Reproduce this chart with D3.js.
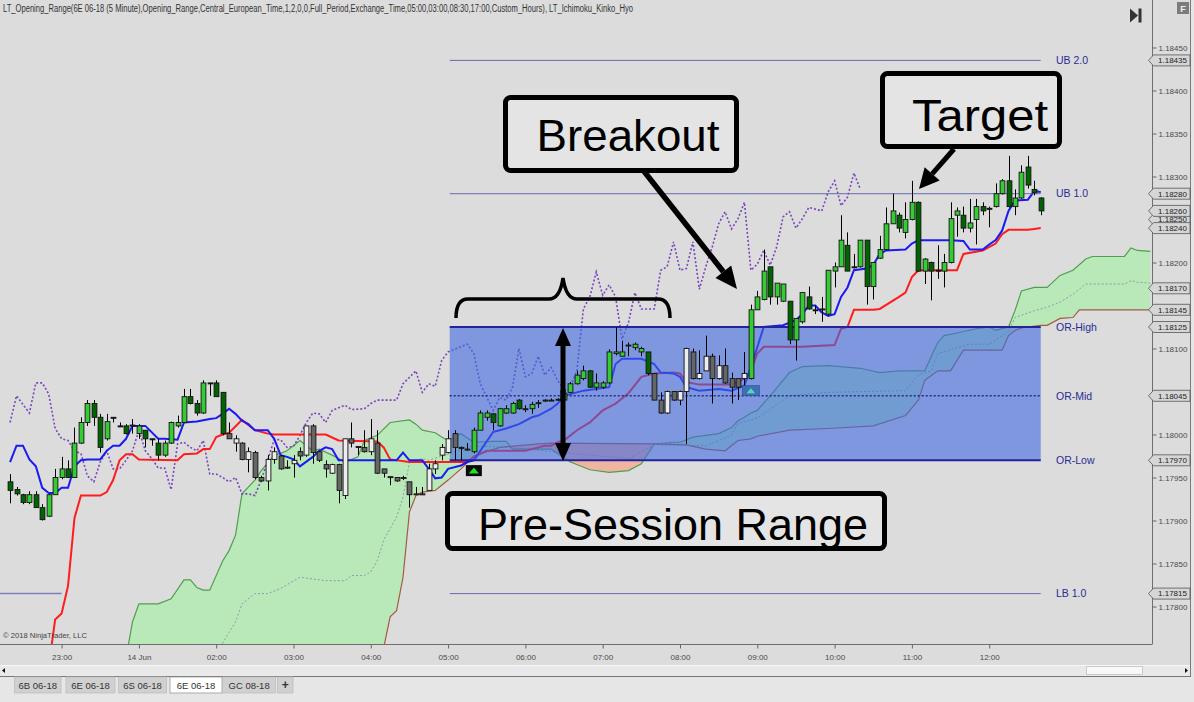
<!DOCTYPE html>
<html><head><meta charset="utf-8">
<script src="https://cdn.jsdelivr.net/npm/d3@7/dist/d3.min.js"></script>
<style>
html,body{margin:0;padding:0;background:#e6e6e6;}
svg{display:block;}
text{font-family:"Liberation Sans",Arial,sans-serif;}
</style></head><body>
<svg id="c" width="1194" height="702"></svg>
<script>
// ---------------- DATA ----------------
const chartTitle = "LT_Opening_Range(6E 06-18 (5 Minute),Opening_Range,Central_European_Time,1,2,0,0,Full_Period,Exchange_Time,05:00,03:00,08:30,17:00,Custom_Hours), LT_Ichimoku_Kinko_Hyo";
const timeLabels = ["23:00","14 Jun","02:00","03:00","04:00","05:00","06:00","07:00","08:00","09:00","10:00","11:00","12:00"];
const timeTickBars = [0,12,24,36,48,60,72,84,96,108,120,132,144];
const priceTicks = [1.178,1.1785,1.179,1.1795,1.18,1.1805,1.181,1.1815,1.182,1.1825,1.183,1.1835,1.184,1.1845];
const firstBar = -8;
// 5-minute candles [open, high, low, close]
const ohlc = [
[1.17945,1.17954,1.17920,1.17935],[1.17936,1.17939,1.17929,1.17931],[1.17930,1.17931,1.17919,1.17921],[1.17921,1.17934,1.17919,1.17930],
[1.17930,1.17934,1.17915,1.17915],[1.17915,1.17919,1.17900,1.17901],[1.17905,1.17931,1.17904,1.17930],[1.17930,1.17960,1.17930,1.17950],
[1.17950,1.17974,1.17948,1.17960],[1.17960,1.17970,1.17950,1.17950],[1.17950,1.18008,1.17950,1.17990],[1.17990,1.18020,1.17989,1.18014],
[1.18014,1.18040,1.18010,1.18036],[1.18036,1.18040,1.18010,1.18020],[1.18020,1.18024,1.17979,1.17985],[1.17995,1.18024,1.17993,1.18015],
[1.18020,1.18020,1.18014,1.18019],[1.18010,1.18014,1.18009,1.18009],[1.18010,1.18012,1.18000,1.18001],[1.18010,1.18018,1.18001,1.18011],
[1.18001,1.18012,1.17995,1.18010],[1.18005,1.18005,1.17985,1.17995],[1.17995,1.17995,1.17987,1.17994],[1.17990,1.17995,1.17970,1.17976],
[1.17976,1.17993,1.17974,1.17990],[1.17990,1.18015,1.17989,1.18014],[1.18010,1.18022,1.18008,1.18014],[1.18014,1.18053,1.18014,1.18044],
[1.18044,1.18053,1.18035,1.18036],[1.18036,1.18040,1.18022,1.18025],[1.18025,1.18063,1.18024,1.18060],[1.18060,1.18060,1.18045,1.18059],
[1.18060,1.18063,1.18044,1.18044],[1.18049,1.18049,1.17999,1.18001],[1.18001,1.18014,1.17995,1.17995],[1.17990,1.17999,1.17980,1.17995],
[1.17990,1.17991,1.17970,1.17971],[1.17971,1.17985,1.17956,1.17980],[1.17979,1.17981,1.17948,1.17950],[1.17950,1.17952,1.17945,1.17946],
[1.17946,1.17976,1.17935,1.17971],[1.17971,1.17985,1.17966,1.17980],[1.17975,1.17976,1.17959,1.17960],[1.17961,1.17970,1.17960,1.17962],
[1.17966,1.17976,1.17950,1.17970],[1.17980,1.17985,1.17970,1.17975],[1.17976,1.18010,1.17974,1.18010],[1.18010,1.18012,1.17966,1.17979],
[1.17980,1.17981,1.17968,1.17970],[1.17965,1.17970,1.17950,1.17960],[1.17955,1.17966,1.17954,1.17965],[1.17965,1.17966,1.17920,1.17935],
[1.17929,1.17995,1.17925,1.17995],[1.17995,1.18014,1.17985,1.17990],[1.17986,1.17986,1.17976,1.17985],[1.17985,1.18005,1.17979,1.17980],
[1.17980,1.18018,1.17976,1.17995],[1.17990,1.18005,1.17954,1.17955],[1.17960,1.17960,1.17950,1.17955],[1.17951,1.17951,1.17941,1.17950],
[1.17950,1.17950,1.17945,1.17946],[1.17949,1.17952,1.17947,1.17950],[1.17945,1.17945,1.17915,1.17930],[1.17930,1.17939,1.17930,1.17931],
[1.17930,1.17939,1.17930,1.17931],[1.17935,1.17966,1.17935,1.17960],[1.17960,1.17970,1.17954,1.17966],[1.17976,1.17989,1.17970,1.17985],
[1.17979,1.18005,1.17978,1.17995],[1.18001,1.18005,1.17970,1.17985],[1.17985,1.17986,1.17970,1.17984],[1.17982,1.17990,1.17981,1.17983],
[1.17980,1.18008,1.17978,1.18005],[1.18005,1.18028,1.18005,1.18025],[1.18020,1.18028,1.18016,1.18025],[1.18024,1.18025,1.18005,1.18014],
[1.18010,1.18031,1.18009,1.18030],[1.18025,1.18034,1.18024,1.18030],[1.18025,1.18038,1.18024,1.18036],[1.18040,1.18041,1.18029,1.18030],
[1.18029,1.18034,1.18026,1.18030],[1.18030,1.18038,1.18024,1.18035],[1.18036,1.18040,1.18031,1.18037],[1.18039,1.18041,1.18038,1.18040],
[1.18040,1.18042,1.18039,1.18040],[1.18040,1.18042,1.18039,1.18041],[1.18040,1.18049,1.18039,1.18048],[1.18049,1.18061,1.18048,1.18059],
[1.18059,1.18074,1.18058,1.18069],[1.18065,1.18080,1.18063,1.18074],[1.18074,1.18075,1.18054,1.18055],[1.18055,1.18071,1.18051,1.18060],
[1.18055,1.18062,1.18053,1.18060],[1.18060,1.18099,1.18059,1.18096],[1.18094,1.18125,1.18092,1.18096],[1.18091,1.18109,1.18091,1.18096],
[1.18103,1.18107,1.18091,1.18104],[1.18101,1.18107,1.18098,1.18105],[1.18096,1.18102,1.18091,1.18100],[1.18096,1.18096,1.18069,1.18071],
[1.18071,1.18071,1.18040,1.18040],[1.18040,1.18049,1.18024,1.18025],[1.18025,1.18051,1.18024,1.18050],[1.18050,1.18050,1.18039,1.18040],
[1.18040,1.18051,1.18034,1.18050],[1.18050,1.18101,1.17989,1.18100],[1.18096,1.18100,1.18064,1.18065],[1.18065,1.18098,1.18064,1.18071],
[1.18074,1.18115,1.18074,1.18091],[1.18091,1.18094,1.18036,1.18065],[1.18065,1.18092,1.18064,1.18080],[1.18080,1.18100,1.18059,1.18060],
[1.18065,1.18072,1.18036,1.18055],[1.18065,1.18065,1.18040,1.18055],[1.18065,1.18096,1.18055,1.18071],[1.18065,1.18151,1.18064,1.18145],
[1.18145,1.18167,1.18145,1.18160],[1.18157,1.18215,1.18156,1.18190],[1.18195,1.18195,1.18151,1.18160],[1.18160,1.18176,1.18151,1.18176],
[1.18155,1.18175,1.18154,1.18175],[1.18155,1.18155,1.18105,1.18110],[1.18110,1.18135,1.18086,1.18135],[1.18131,1.18165,1.18129,1.18165],
[1.18160,1.18172,1.18145,1.18146],[1.18145,1.18150,1.18140,1.18144],[1.18145,1.18160,1.18131,1.18146],[1.18140,1.18191,1.18138,1.18191],
[1.18190,1.18200,1.18171,1.18195],[1.18195,1.18255,1.18195,1.18226],[1.18220,1.18235,1.18190,1.18190],[1.18195,1.18210,1.18193,1.18194],
[1.18195,1.18226,1.18194,1.18226],[1.18226,1.18226,1.18151,1.18172],[1.18172,1.18200,1.18157,1.18200],[1.18205,1.18231,1.18204,1.18215],
[1.18215,1.18264,1.18214,1.18245],[1.18245,1.18280,1.18245,1.18260],[1.18255,1.18258,1.18235,1.18240],[1.18235,1.18270,1.18228,1.18250],
[1.18250,1.18295,1.18249,1.18270],[1.18270,1.18271,1.18189,1.18190],[1.18190,1.18205,1.18175,1.18204],[1.18200,1.18201,1.18156,1.18190],
[1.18191,1.18220,1.18181,1.18190],[1.18190,1.18210,1.18171,1.18200],[1.18200,1.18270,1.18199,1.18251],[1.18255,1.18264,1.18230,1.18260],
[1.18255,1.18265,1.18235,1.18240],[1.18240,1.18274,1.18235,1.18246],[1.18250,1.18274,1.18221,1.18265],[1.18265,1.18270,1.18255,1.18260],
[1.18263,1.18265,1.18241,1.18262],[1.18265,1.18292,1.18264,1.18280],[1.18280,1.18297,1.18279,1.18295],[1.18295,1.18324,1.18264,1.18265],
[1.18265,1.18285,1.18255,1.18275],[1.18275,1.18313,1.18274,1.18305],[1.18311,1.18324,1.18286,1.18290],[1.18285,1.18295,1.18278,1.18281],
[1.18275,1.18276,1.18255,1.18260]
];
// bar spans where the trend colouring is neutral (grey candles)
const neutralSpans = [[26,63],[92,106]];
// Ichimoku lines: [bar, price]
const tenkan = [[-8,1.17968],[-7,1.17987],[-6,1.17987],[-5,1.17971],[-4,1.17963],[-3,1.17938],[-2,1.17932],[-1,1.17932],[0,1.17938],[1,1.17938],[2,1.17963],[3,1.17970],[4,1.17971],[6,1.17971],[7,1.17981],[8,1.17987],[9,1.17987],[10,1.17995],[11,1.18010],[13,1.18010],[15,1.17995],[16,1.17995],[18,1.17994],[19,1.18014],[21,1.18015],[23,1.18018],[24,1.18019],[25,1.18024],[26,1.18030],[27,1.18024],[28,1.18016],[29,1.18012],[30,1.18005],[32,1.18005],[33,1.17995],[34,1.17976],[35,1.17974],[36,1.17971],[37,1.17963],[39,1.17974],[40,1.17981],[41,1.17985],[42,1.17983],[43,1.17970],[52,1.17970],[53,1.17979],[54,1.17970],[56,1.17970],[57,1.17960],[58,1.17949],[59,1.17950],[60,1.17960],[62,1.17964],[63,1.17968],[64,1.17970],[67,1.18003],[69,1.18007],[71,1.18012],[73,1.18020],[74,1.18022],[76,1.18030],[77,1.18036],[78,1.18045],[80,1.18049],[81,1.18051],[85,1.18055],[86,1.18082],[87,1.18088],[90,1.18088],[92,1.18082],[93,1.18072],[95,1.18071],[96,1.18067],[97,1.18055],[99,1.18051],[102,1.18053],[104,1.18051],[106,1.18057],[107,1.18078],[109,1.18125],[112,1.18127],[114,1.18133],[115,1.18140],[116,1.18150],[117,1.18150],[118,1.18142],[119,1.18138],[120,1.18140],[121,1.18160],[122,1.18171],[123,1.18191],[125,1.18193],[126,1.18197],[127,1.18210],[128,1.18214],[131,1.18215],[132,1.18222],[133,1.18226],[138,1.18226],[140,1.18225],[141,1.18215],[143,1.18215],[144,1.18221],[145,1.18226],[146,1.18237],[147,1.18260],[148,1.18272],[150,1.18273],[151,1.18283],[152,1.18282]];
const kijun = [[-2,1.17730],[-1,1.17785],[0,1.17792],[1,1.17824],[2,1.17903],[3,1.17929],[6,1.17929],[7,1.17933],[8,1.17947],[9,1.17970],[10,1.17977],[11,1.17977],[12,1.17971],[18,1.17970],[19,1.17977],[21,1.17978],[22,1.17983],[23,1.17983],[24,1.17997],[25,1.18000],[26,1.18002],[28,1.18017],[30,1.18005],[32,1.18001],[33,1.18000],[41,1.18000],[43,1.17993],[49,1.17992],[50,1.17985],[51,1.17971],[54,1.17968],[63,1.17968],[64,1.17974],[66,1.17981],[72,1.17981],[73,1.17983],[75,1.17987],[76,1.17987],[77,1.17991],[78,1.17993],[79,1.17999],[80,1.18005],[82,1.18014],[84,1.18028],[86,1.18036],[88,1.18048],[90,1.18067],[92,1.18071],[95,1.18072],[96,1.18071],[97,1.18061],[99,1.18058],[104,1.18058],[106,1.18065],[107,1.18074],[108,1.18094],[109,1.18102],[115,1.18102],[120,1.18104],[121,1.18123],[122,1.18125],[123,1.18145],[126,1.18145],[127,1.18146],[130,1.18160],[131,1.18165],[132,1.18183],[133,1.18191],[139,1.18191],[140,1.18210],[143,1.18214],[145,1.18222],[146,1.18233],[147,1.18238],[150,1.18238],[151,1.18239],[152,1.18240]];
const chikou = [[-8,1.18014],[-7,1.18045],[-5,1.18025],[-4,1.18060],[-3,1.18060],[-2,1.18047],[-1,1.18007],[0,1.17995],[1,1.17993],[2,1.17981],[3,1.17978],[4,1.17952],[5,1.17945],[6,1.17968],[7,1.17981],[8,1.17960],[9,1.17960],[10,1.17970],[11,1.17981],[12,1.18005],[13,1.17981],[14,1.17972],[15,1.17961],[16,1.17961],[17,1.17936],[18,1.17989],[19,1.17991],[20,1.17985],[21,1.17981],[22,1.17993],[23,1.17954],[24,1.17954],[25,1.17950],[26,1.17945],[27,1.17950],[28,1.17931],[29,1.17931],[30,1.17929],[31,1.17947],[33,1.17994],[34,1.17994],[35,1.17985],[36,1.17986],[37,1.17999],[38,1.18014],[39,1.18025],[40,1.18024],[41,1.18014],[42,1.18028],[44,1.18034],[45,1.18029],[47,1.18030],[48,1.18036],[49,1.18040],[52,1.18040],[53,1.18059],[55,1.18074],[56,1.18049],[57,1.18059],[58,1.18056],[59,1.18086],[60,1.18096],[62,1.18102],[63,1.18105],[64,1.18094],[65,1.18059],[67,1.18028],[68,1.18043],[69,1.18040],[70,1.18055],[71,1.18100],[72,1.18067],[73,1.18071],[74,1.18091],[75,1.18069],[76,1.18078],[77,1.18063],[78,1.18051],[79,1.18055],[80,1.18075],[81,1.18146],[82,1.18160],[83,1.18189],[84,1.18162],[85,1.18174],[86,1.18160],[87,1.18111],[88,1.18130],[89,1.18165],[90,1.18146],[92,1.18146],[93,1.18191],[94,1.18195],[95,1.18224],[96,1.18191],[97,1.18193],[98,1.18224],[99,1.18169],[100,1.18195],[101,1.18218],[102,1.18245],[103,1.18259],[104,1.18239],[105,1.18251],[106,1.18270],[107,1.18191],[108,1.18198],[109,1.18214],[110,1.18197],[111,1.18218],[112,1.18253],[113,1.18259],[114,1.18240],[115,1.18251],[116,1.18264],[118,1.18260],[119,1.18282],[120,1.18295],[121,1.18266],[122,1.18276],[123,1.18304],[124,1.18285]];
const senkouA = [[10,1.17740],[11,1.17782],[12,1.17803],[15,1.17803],[17,1.17809],[19,1.17831],[20,1.17831],[21,1.17822],[22,1.17819],[23,1.17819],[25,1.17853],[26,1.17865],[27,1.17883],[28,1.17931],[30,1.17947],[31,1.17958],[33,1.17976],[34,1.17978],[35,1.17981],[37,1.17993],[39,1.17981],[40,1.17983],[42,1.17976],[44,1.17968],[46,1.17974],[47,1.17993],[49,1.17999],[51,1.18014],[54,1.18017],[55,1.18012],[56,1.18005],[58,1.18002],[59,1.17997],[60,1.17993],[62,1.18001],[64,1.17991],[67,1.17992],[69,1.17992],[70,1.17983],[76,1.17983],[77,1.17978],[79,1.17968],[82,1.17959],[85,1.17956],[88,1.17958],[90,1.17966],[92,1.17989],[95,1.17991],[96,1.17991],[98,1.17997],[100,1.17999],[102,1.18001],[104,1.18008],[105,1.18016],[106,1.18020],[107,1.18025],[108,1.18028],[110,1.18045],[113,1.18072],[115,1.18079],[119,1.18080],[124,1.18077],[127,1.18072],[130,1.18074],[134,1.18074],[136,1.18107],[137,1.18115],[139,1.18118],[142,1.18123],[144,1.18125],[145,1.18121],[147,1.18125],[148,1.18144],[149,1.18167],[151,1.18171],[153,1.18171],[155,1.18185],[157,1.18191],[159,1.18204],[160,1.18207],[165,1.18207],[166,1.18217],[167,1.18214],[169,1.18213]];
const senkouB = [[50,1.17752],[51,1.17788],[52,1.17795],[53,1.17834],[54,1.17910],[55,1.17929],[56,1.17933],[58,1.17935],[59,1.17941],[60,1.17947],[62,1.17960],[64,1.17975],[68,1.17985],[74,1.17989],[76,1.17990],[92,1.17989],[97,1.17988],[100,1.17983],[103,1.17981],[105,1.17993],[107,1.17995],[108,1.17998],[113,1.18005],[119,1.18007],[126,1.18010],[131,1.18022],[133,1.18040],[134,1.18063],[136,1.18074],[138,1.18074],[140,1.18098],[146,1.18098],[147,1.18115],[148,1.18121],[149,1.18124],[152,1.18127],[153,1.18127],[155,1.18135],[157,1.18136],[158,1.18145],[169,1.18145]];
const cloudMid = [[24,1.17745],[26,1.17770],[27,1.17782],[28,1.17803],[30,1.17815],[32,1.17815],[34,1.17821],[37,1.17834],[41,1.17830],[44,1.17830],[45,1.17836],[47,1.17836],[48,1.17840],[49,1.17853],[50,1.17877],[52,1.17904],[53,1.17927],[54,1.17968],[56,1.17972],[57,1.17970],[64,1.17987],[71,1.17984],[79,1.17978],[88,1.17972],[92,1.17988],[100,1.17987],[104,1.17999],[105,1.18013],[108,1.18019],[113,1.18045],[119,1.18049],[131,1.18051],[133,1.18069],[135,1.18074],[136,1.18094],[139,1.18101],[141,1.18105],[144,1.18105],[147,1.18120],[148,1.18136],[151,1.18144],[153,1.18148],[155,1.18154],[157,1.18163],[159,1.18175],[165,1.18175],[166,1.18179],[167,1.18177],[169,1.18176]];
// Opening range levels
const levelNames = ["UB 2.0","UB 1.0","OR-High","OR-Mid","OR-Low","LB 1.0"];
const levelValues = [1.18435,1.18280,1.18125,1.18045,1.17970,1.17815];
const rangeStartBar = 60.25, rangeEndBar = 152;
const prevLB = {value:1.17815, startBar:-12, endBar:0};
// right-axis price markers
const axisMarkers = [1.18435,1.18280,1.18250,1.18260,1.18240,1.18170,1.18145,1.18125,1.18045,1.17970,1.17815];
// signal markers [bar, price]
const longSignal = [64,1.17958];
const reentrySignal = [107,1.18051];
const tabNames = ["6B 06-18","6E 06-18","6S 06-18","6E 06-18","GC 08-18","+"];

// ---------------- DRAW ----------------
const svg = d3.select("#c");
const defs = svg.append("defs");
const PR = 1152, PB = 644;
const x = d3.scaleLinear().domain([0,144]).range([61.6,989.2]);
const y = d3.scaleLinear().domain([1.178,1.1845]).range([606.5,47.5]);

defs.append("clipPath").attr("id","plotClip").append("rect").attr("x",0).attr("y",0).attr("width",PR).attr("height",PB);

svg.append("rect").attr("width",1194).attr("height",702).attr("fill","#e6e6e6");
svg.append("rect").attr("x",0).attr("y",0).attr("width",1190).attr("height",676).attr("fill","#dcdcdc");

const plot = svg.append("g").attr("clip-path","url(#plotClip)");

// cloud
const topY=-60, botY=720;
const belowArea = d3.area().x(d=>x(d[0])).y0(d=>y(d[1])).y1(botY);
const aboveArea = d3.area().x(d=>x(d[0])).y0(topY).y1(d=>y(d[1]));
defs.append("clipPath").attr("id","belowA").append("path").attr("d",belowArea(senkouA));
defs.append("clipPath").attr("id","aboveA").append("path").attr("d",aboveArea(senkouA));
const cloudGreen = "#bae9b9", cloudRed = "#efb5a0";
const gG = plot.append("g").attr("clip-path","url(#belowA)");
gG.append("path").attr("d",aboveArea(senkouB)).attr("fill",cloudGreen);
gG.append("rect").attr("x",x(senkouA[0][0])).attr("y",topY)
  .attr("width",x(senkouB[0][0])-x(senkouA[0][0])+0.5).attr("height",botY-topY).attr("fill",cloudGreen);
const gR = plot.append("g").attr("clip-path","url(#aboveA)");
gR.append("path").attr("d",belowArea(senkouB)).attr("fill",cloudRed);

const line = d3.line().x(d=>x(d[0])).y(d=>y(d[1]));
plot.append("path").attr("d",line(cloudMid)).attr("fill","none").attr("stroke","#8c9ca8").attr("stroke-width",1).attr("stroke-dasharray","2,2");
plot.append("path").attr("d",line(senkouA)).attr("fill","none").attr("stroke","#4f9f4f").attr("stroke-width",1.2);
plot.append("path").attr("d",line(senkouB)).attr("fill","none").attr("stroke","#a45a44").attr("stroke-width",1.2);

// previous-day LB line
plot.append("line").attr("x1",x(prevLB.startBar)).attr("x2",x(prevLB.endBar))
  .attr("y1",y(prevLB.value)).attr("y2",y(prevLB.value)).attr("stroke","#7f7fbf").attr("stroke-width",1.5);

// chikou, kijun, tenkan
plot.append("path").attr("d",line(chikou)).attr("fill","none").attr("stroke","#7a45bd").attr("stroke-width",1.6).attr("stroke-dasharray","2,2");
plot.append("path").attr("d",line(kijun)).attr("fill","none").attr("stroke","#ff1c1c").attr("stroke-width",2);
plot.append("path").attr("d",line(tenkan)).attr("fill","none").attr("stroke","#1a1af2").attr("stroke-width",2);

// opening range box
const xr0 = x(rangeStartBar), xr1 = x(rangeEndBar);
plot.append("rect").attr("x",xr0).attr("y",y(levelValues[2])).attr("width",xr1-xr0)
  .attr("height",y(levelValues[4])-y(levelValues[2])).attr("fill","#4169e1").attr("fill-opacity",0.6);

// level lines
levelValues.forEach((v,i)=>{
  const nm = levelNames[i];
  const isOR = nm.startsWith("OR");
  const ln = plot.append("line").attr("x1",xr0).attr("x2",xr1).attr("y1",y(v)).attr("y2",y(v));
  if(nm==="OR-Mid") ln.attr("stroke","#28288c").attr("stroke-width",1.6).attr("stroke-dasharray","2,2");
  else if(isOR) ln.attr("stroke","#23239a").attr("stroke-width",2);
  else ln.attr("stroke","#6a6ab0").attr("stroke-width",1);
  svg.append("text").attr("x",1056).attr("y",y(v)).attr("dy","0.36em").attr("font-size",10.5)
    .attr("fill","#2b2b96").text(nm);
});

// candles
const isNeutral = b => neutralSpans.some(s=>b>=s[0]&&b<=s[1]);
const bw = 4.8;
const cg = plot.append("g");
const candles = cg.selectAll("g").data(ohlc).join("g");
candles.append("line")
  .attr("x1",(d,i)=>Math.round(x(firstBar+i))+0.5).attr("x2",(d,i)=>Math.round(x(firstBar+i))+0.5)
  .attr("y1",d=>y(d[1])).attr("y2",d=>y(d[2])).attr("stroke","#000").attr("stroke-width",1);
candles.append("rect")
  .attr("x",(d,i)=>Math.round(x(firstBar+i))+0.5-bw/2)
  .attr("y",d=>y(Math.max(d[0],d[3])))
  .attr("width",bw)
  .attr("height",d=>Math.max(1,Math.abs(y(d[0])-y(d[3]))))
  .attr("fill",(d,i)=>{const up=d[3]>=d[0]; return isNeutral(firstBar+i)?(up?"#ededed":"#666666"):(up?"#33cc33":"#006400");})
  .attr("stroke","#111").attr("stroke-width",0.9);

// signal markers
const s1x = x(longSignal[0]), s1y = y(longSignal[1]);
plot.append("rect").attr("x",s1x-8).attr("y",s1y-5.5).attr("width",16).attr("height",11).attr("fill","#0a0a0a");
plot.append("path").attr("d",`M${s1x-5},${s1y+3}L${s1x+5},${s1y+3}L${s1x},${s1y-3}Z`).attr("fill","#22e022");
const s2x = x(reentrySignal[0]), s2y = y(reentrySignal[1]);
plot.append("rect").attr("x",s2x-8.5).attr("y",s2y-5).attr("width",17).attr("height",10).attr("fill","#3f6fb8").attr("stroke","#2a4f8a").attr("stroke-width",0.6);
plot.append("path").attr("d",`M${s2x-5},${s2y+3}L${s2x+5},${s2y+3}L${s2x},${s2y-3}Z`).attr("fill","#5fd0c8").attr("stroke","#2a6a80").attr("stroke-width",0.5);

// copyright
svg.append("text").attr("x",3).attr("y",637.5).attr("font-size",8).attr("fill","#444")
  .attr("textLength",84).attr("lengthAdjust","spacingAndGlyphs").text("\u00a9 2018 NinjaTrader, LLC");

// title
svg.append("text").attr("x",3).attr("y",12).attr("font-size",10)
  .attr("font-family","'Liberation Sans Narrow','Arial Narrow','Liberation Sans',sans-serif")
  .attr("fill","#333").attr("textLength",630).attr("lengthAdjust","spacingAndGlyphs").text(chartTitle);

// borders
svg.append("line").attr("x1",PR+0.5).attr("x2",PR+0.5).attr("y1",0).attr("y2",PB).attr("stroke","#6e6e6e");
svg.append("line").attr("x1",0).attr("x2",PR+0.5).attr("y1",PB+0.5).attr("y2",PB+0.5).attr("stroke","#6e6e6e");
svg.append("line").attr("x1",1190.5).attr("x2",1190.5).attr("y1",0).attr("y2",676).attr("stroke","#7a7a7a");

// axes (tick labels covered by a price marker are hidden, as on the platform)
const visibleTicks = priceTicks.filter(t=>axisMarkers.every(m=>Math.abs(y(m)-y(t))>8));
const yAxis = d3.axisRight(y).tickValues(visibleTicks).tickSize(4).tickPadding(2).tickFormat(d3.format(".5f"));
const ya = svg.append("g").attr("transform",`translate(${PR+0.5},0)`).call(yAxis);
ya.select(".domain").remove();
ya.selectAll("line").attr("stroke","#666");
ya.selectAll("text").attr("font-size",8).attr("fill","#4a4a4a").attr("font-family","'Liberation Sans',Arial,sans-serif");

const xAxis = d3.axisBottom(x).tickValues(timeTickBars).tickSize(4).tickPadding(6).tickFormat((d,i)=>timeLabels[i]);
const xa = svg.append("g").attr("transform",`translate(0,${PB+0.5})`).call(xAxis);
xa.select(".domain").remove();
xa.selectAll("line").attr("stroke","#666");
xa.selectAll("text").attr("font-size",8).attr("fill","#4a4a4a").attr("font-family","'Liberation Sans',Arial,sans-serif");

// price markers on axis
axisMarkers.forEach(v=>{
  const yy = y(v);
  svg.append("path").attr("d",`M1148.5,${yy}L1153.5,${yy-5.5}L1190,${yy-5.5}L1190,${yy+5.5}L1153.5,${yy+5.5}Z`)
    .attr("fill","#d6d6d6").attr("stroke","#555").attr("stroke-width",0.8);
  svg.append("text").attr("x",1172.5).attr("y",yy).attr("dy","0.35em").attr("text-anchor","middle")
    .attr("font-size",8).attr("fill","#222").text(d3.format(".5f")(v));
});

// top-right icons
svg.append("path").attr("d","M1130,8.5L1138,15.5L1130,22.5Z").attr("fill","#333");
svg.append("rect").attr("x",1138.5).attr("y",8.5).attr("width",3).attr("height",14).attr("fill","#333");
svg.append("rect").attr("x",1177).attr("y",2).attr("width",12).attr("height",12).attr("fill","#7c7c7c");
svg.append("text").attr("x",1183).attr("y",11.5).attr("text-anchor","middle").attr("font-size",9).attr("font-weight","bold").attr("fill","#eee").text("F");

// scrollbar
svg.append("rect").attr("x",0).attr("y",665).attr("width",1190).attr("height",11).attr("fill","#e9e9e9");
svg.append("line").attr("x1",0).attr("x2",1190).attr("y1",665.5).attr("y2",665.5).attr("stroke","#f7f7f7");
svg.append("rect").attr("x",1086.5).attr("y",666.5).attr("width",56).attr("height",8).attr("fill","#f8f8f8").attr("stroke","#c9c9c9");
svg.append("path").attr("d","M2,670.5L5,668L5,673Z").attr("fill","#111");
svg.append("path").attr("d","M1188,670.5L1185,668L1185,673Z").attr("fill","#111");
svg.append("line").attr("x1",0).attr("x2",1191).attr("y1",676.5).attr("y2",676.5).attr("stroke","#777");

// tabs
const tabX = [[14.5,61],[66,115],[118.6,166.5],[170,222],[222.7,275.5],[277.5,293]];
tabNames.forEach((t,i)=>{
  const [a,b] = tabX[i];
  const active = i===3;
  svg.append("rect").attr("x",a).attr("y",677).attr("width",b-a).attr("height",16)
    .attr("fill",active?"#ffffff":"#d0d0d0").attr("stroke",active?"#999":"#bdbdbd").attr("stroke-width",0.8);
  svg.append("text").attr("x",(a+b)/2).attr("y",688.5).attr("text-anchor","middle")
    .attr("font-size",t==="+"?12:9.5).attr("font-weight",t==="+"?"bold":"normal").attr("fill","#333").text(t);
});

// ---------------- annotations ----------------
const ann = svg.append("g");
function box(x0,y0,w,h){ ann.append("rect").attr("x",x0).attr("y",y0).attr("width",w).attr("height",h).attr("rx",5)
  .attr("fill","#e4e4e4").attr("stroke","#000").attr("stroke-width",5); }
function label(t,cx,by,len){ ann.append("text").attr("x",cx).attr("y",by).attr("text-anchor","middle")
  .attr("font-family","Lato,'Open Sans',sans-serif").attr("font-size",44).attr("fill","#000")
  .attr("textLength",len).attr("lengthAdjust","spacingAndGlyphs").text(t); }
box(505.5,97.5,231,73); label("Breakout",628,151,183);
box(882.5,73.5,177,73); label("Target",980,131,136);
box(447.5,493.5,437,55); label("Pre-Session Range",673,540,390);

function arrow(x1,y1,x2,y2,head,hw,sw){
  const a = Math.atan2(y2-y1,x2-x1);
  const bx = x2 - head*Math.cos(a), by = y2 - head*Math.sin(a);
  ann.append("line").attr("x1",x1).attr("y1",y1).attr("x2",bx).attr("y2",by).attr("stroke","#000").attr("stroke-width",sw);
  const px = -Math.sin(a)*hw, py = Math.cos(a)*hw;
  ann.append("path").attr("d",`M${x2},${y2}L${bx+px},${by+py}L${bx-px},${by-py}Z`).attr("fill","#000");
}
arrow(643,170,737,289,22,10,5.5);
arrow(954,149,919,189,20,10,5);
// double-headed vertical arrow
arrow(563,400,563,328,18,8,5);
arrow(563,390,563,461,18,8,5);
// curly brace
ann.append("path").attr("d","M456,318 Q456,299 468,299 L549,299 Q560,299 563,278 Q566,299 577,299 L658,299 Q670,299 670,318")
  .attr("fill","none").attr("stroke","#000").attr("stroke-width",3.5);
</script></body></html>
